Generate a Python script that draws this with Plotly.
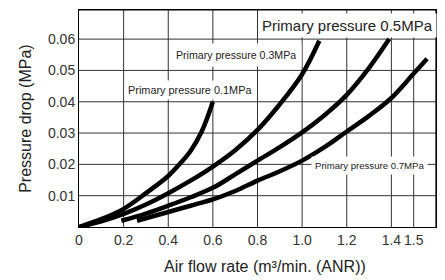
import plotly.graph_objects as go

# Data
c01_x = [0, 0.1, 0.2, 0.3, 0.4, 0.45, 0.5, 0.55, 0.6]
c01_y = [0, 0.0025, 0.0058, 0.0108, 0.0163, 0.0200, 0.0243, 0.0305, 0.0400]

c03_x = [0, 0.1, 0.2, 0.3, 0.4, 0.5, 0.6, 0.7, 0.8, 0.9, 1.0, 1.077]
c03_y = [0, 0.0018, 0.0042, 0.0072, 0.0108, 0.0148, 0.0193, 0.0245, 0.0310, 0.0392, 0.0488, 0.0595]

c05_x = [0.19, 0.3, 0.4, 0.5, 0.6, 0.7, 0.8, 0.9, 1.0, 1.1, 1.2, 1.3, 1.39]
c05_y = [0.0020, 0.0043, 0.0068, 0.0095, 0.0125, 0.0168, 0.0212, 0.0255, 0.0302, 0.0357, 0.0422, 0.0508, 0.0600]

c07_x = [0.26, 0.4, 0.5, 0.6, 0.7, 0.8, 0.9, 1.0, 1.1, 1.2, 1.3, 1.4, 1.5, 1.56]
c07_y = [0.0020, 0.0048, 0.0068, 0.0088, 0.0115, 0.0148, 0.0178, 0.0212, 0.0255, 0.0305, 0.0355, 0.0412, 0.0490, 0.0537]

x_ticks = [0, 0.2, 0.4, 0.6, 0.8, 1.0, 1.2, 1.4, 1.5]
x_tick_text = ["0", "0.2", "0.4", "0.6", "0.8", "1.0", "1.2", "1.4", "1.5"]
y_ticks = [0.01, 0.02, 0.03, 0.04, 0.05, 0.06]
y_tick_text = ["0.01", "0.02", "0.03", "0.04", "0.05", "0.06"]

labels = ["Primary pressure 0.5MPa", "Primary pressure 0.3MPa",
          "Primary pressure 0.1MPa", "Primary pressure 0.7MPa"]
label_x = [1.203, 0.704, 0.497, 1.302]
label_y = [0.0643, 0.0549, 0.0438, 0.0195]
label_size = [15, 10.6, 10.9, 9.6]

x_title = "Air flow rate (m³/min. (ANR))"
y_title = "Pressure drop (MPa)"

X_RANGE = [0, 1.6]
Y_RANGE = [0, 0.0693]

REG = "Liberation Sans"
GRID = "#333333"

fig = go.Figure()

# grid lines at the tick values (drawn as traces)
gx, gy = [], []
for v in x_ticks[1:]:
    gx += [v, v, None]
    gy += [Y_RANGE[0], Y_RANGE[1], None]
for v in y_ticks:
    gx += [X_RANGE[0], X_RANGE[1], None]
    gy += [v, v, None]
fig.add_trace(go.Scatter(x=gx, y=gy, mode="lines", line=dict(color=GRID, width=1),
                         showlegend=False, hoverinfo="skip"))

# plot frame (top and right edges)
fig.add_trace(go.Scatter(x=[X_RANGE[0], X_RANGE[1], X_RANGE[1]],
                         y=[Y_RANGE[1], Y_RANGE[1], Y_RANGE[0]],
                         mode="lines", line=dict(color="black", width=1.2),
                         showlegend=False, hoverinfo="skip", cliponaxis=False))

for xs, ys in [(c01_x, c01_y), (c03_x, c03_y), (c05_x, c05_y), (c07_x, c07_y)]:
    fig.add_trace(go.Scatter(x=xs, y=ys, mode="lines",
                             line=dict(color="black", width=4.5, shape="spline", smoothing=1),
                             showlegend=False, hoverinfo="skip"))

pads = [3, 5, 3, 3]
for t, lx, ly, s, p in zip(labels, label_x, label_y, label_size, pads):
    fig.add_annotation(x=lx, y=ly, xref="x", yref="y", text=t, showarrow=False,
                       font=dict(family=REG, size=s, color="#222"),
                       bgcolor="white", borderpad=p,
                       xanchor="center", yanchor="middle")

# axis titles
fig.add_annotation(x=0.521, y=-0.183, xref="paper", yref="paper", text=x_title,
                   showarrow=False, font=dict(family=REG, size=16, color="#222"),
                   xanchor="center", yanchor="middle")
fig.add_annotation(x=-0.1485, y=0.503, xref="paper", yref="paper", text=y_title,
                   showarrow=False, textangle=-90, font=dict(family=REG, size=16, color="#222"),
                   xanchor="center", yanchor="middle")

fig.update_layout(
    width=437, height=272,
    margin=dict(l=71, r=9, t=2, b=53, autoexpand=False),
    plot_bgcolor="white",
    font=dict(family=REG, size=14, color="#333"),
    xaxis=dict(range=X_RANGE, tickvals=x_ticks, ticktext=x_tick_text,
               showgrid=False, showline=True, linecolor="black", mirror=True,
               zeroline=False),
    yaxis=dict(range=Y_RANGE, tickvals=y_ticks, ticktext=y_tick_text,
               showgrid=False, showline=True, linecolor="black", mirror=True,
               zeroline=False),
)

fig.write_html("out.html")
